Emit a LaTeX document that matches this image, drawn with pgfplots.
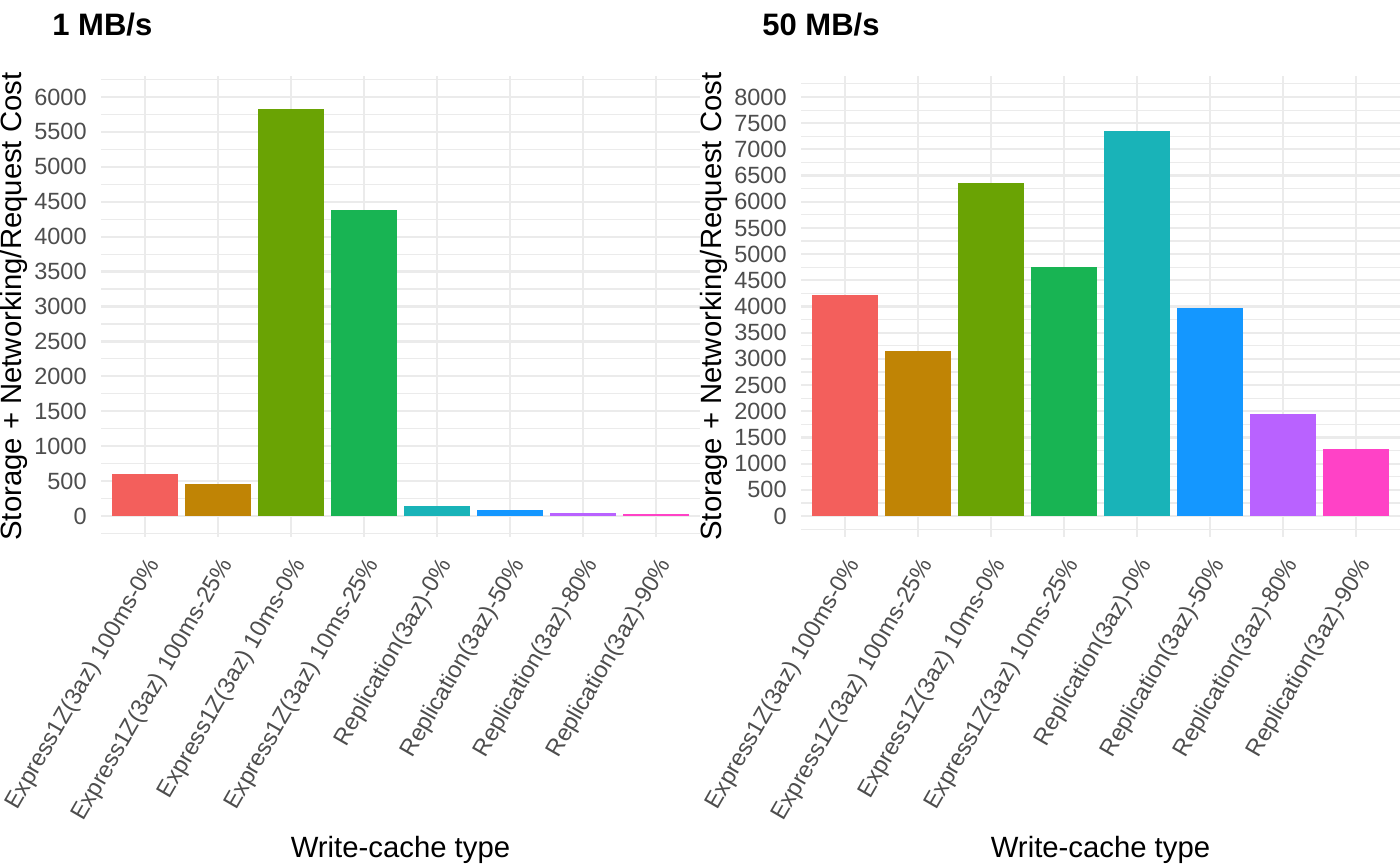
\documentclass[border=0pt]{standalone}
\usepackage{pgfplots}
\pgfplotsset{compat=1.18}
\usepackage{fontspec}
\setmainfont{Liberation Sans}
\definecolor{c1}{HTML}{F35F5C}
\definecolor{c2}{HTML}{C08405}
\definecolor{c3}{HTML}{6AA304}
\definecolor{c4}{HTML}{18B453}
\definecolor{c5}{HTML}{19B3B8}
\definecolor{c6}{HTML}{1497FF}
\definecolor{c7}{HTML}{B962FF}
\definecolor{c8}{HTML}{FF42C6}
\definecolor{gridc}{HTML}{EBEBEB}
\definecolor{tickc}{HTML}{4D4D4D}
\pgfplotsset{
  ggstyle/.style={
    scale only axis,
    width=299.5pt, height=230.5pt,
    anchor=south west,
    ybar, bar width=0.9, bar shift=0pt,
    xmin=0.4, xmax=8.6,
    xtick={1,...,8},
    xticklabels={Express1Z(3az) 100ms-0\%,Express1Z(3az) 100ms-25\%,Express1Z(3az) 10ms-0\%,Express1Z(3az) 10ms-25\%,Replication(3az)-0\%,Replication(3az)-50\%,Replication(3az)-80\%,Replication(3az)-90\%},
    axis line style={draw=none},
    major tick length=0pt, minor tick length=0pt,
    xmajorgrids, ymajorgrids, yminorgrids,
    major grid style={draw=gridc, line width=1.1pt},
    minor grid style={draw=gridc, line width=0.55pt},
    /pgf/number format/assume math mode=true,
    /pgf/number format/1000 sep={},
    yticklabel style={font=\fontsize{11.75}{14}\selectfont, color=tickc, anchor=east, inner sep=0pt, xshift=-7pt},
    xticklabel style={font=\fontsize{11.75}{14}\selectfont, color=tickc, xshift=0pt, yshift=-9pt, rotate=60, anchor=north east, inner sep=0pt},
    xlabel={Write-cache type},
    ylabel={Storage + Networking/Request Cost},
    xlabel style={font=\fontsize{14.65}{17}\selectfont, at={(axis description cs:0.5,-0.6963)}, anchor=base, inner sep=0pt},
    ylabel style={font=\fontsize{14.65}{17}\selectfont, at={(axis description cs:-0.1320,0.5)}, anchor=base, inner sep=0pt},
    every axis plot/.append style={draw=none},
  }
}
\begin{document}
\begin{tikzpicture}
\useasboundingbox (0,0) rectangle (700pt,-432.5pt);
\begin{axis}[ggstyle,
  at={(50.5pt,-268.5pt)},
  ymin=-300, ymax=6300,
  ytick={0,500,...,6000},
  minor ytick={-250,250,...,6250},
  title={1 MB/s},
  title style={font=\bfseries\fontsize{15.5}{18}\selectfont, at={(axis description cs:-0.0818,1.0889)}, anchor=base west, yshift=-6pt, inner sep=0pt},
]
\addplot[fill=c1] coordinates {(1,596)};
\addplot[fill=c2] coordinates {(2,453)};
\addplot[fill=c3] coordinates {(3,5834)};
\addplot[fill=c4] coordinates {(4,4381)};
\addplot[fill=c5] coordinates {(5,143)};
\addplot[fill=c6] coordinates {(6,86)};
\addplot[fill=c7] coordinates {(7,43)};
\addplot[fill=c8] coordinates {(8,29)};
\end{axis}
\begin{axis}[ggstyle,
  at={(400.5pt,-268.5pt)},
  ymin=-400, ymax=8400,
  ytick={0,500,...,8000},
  minor ytick={-250,250,...,8250},
  title={50 MB/s},
  title style={font=\bfseries\fontsize{15.5}{18}\selectfont, at={(axis description cs:-0.0651,1.0889)}, anchor=base west, yshift=-6pt, inner sep=0pt},
]
\addplot[fill=c1] coordinates {(1,4223)};
\addplot[fill=c2] coordinates {(2,3157)};
\addplot[fill=c3] coordinates {(3,6357)};
\addplot[fill=c4] coordinates {(4,4757)};
\addplot[fill=c5] coordinates {(5,7348)};
\addplot[fill=c6] coordinates {(6,3976)};
\addplot[fill=c7] coordinates {(7,1956)};
\addplot[fill=c8] coordinates {(8,1276)};
\end{axis}
\end{tikzpicture}
\end{document}
